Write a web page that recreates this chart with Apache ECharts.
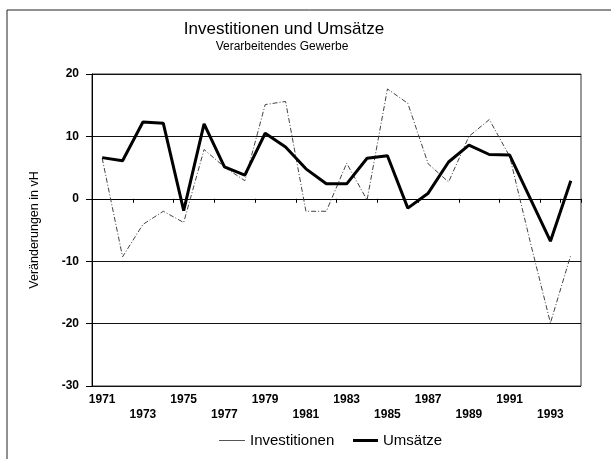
<!DOCTYPE html>
<html>
<head>
<meta charset="utf-8">
<script src="https://cdn.jsdelivr.net/npm/echarts@6/dist/echarts.min.js"></script>
<style>
  html, body { margin: 0; padding: 0; background: #fff; }
  #chart { width: 611px; height: 459px; }
</style>
</head>
<body>
<div id="chart"></div>
<script>
// Jahre 1971 - 1994
const years = ['1971', '1972', '1973', '1974', '1975', '1976', '1977', '1978', '1979', '1980', '1981', '1982',
  '1983', '1984', '1985', '1986', '1987', '1988', '1989', '1990', '1991', '1992', '1993', '1994']
const investitionen = [6.5, -9.3, -4.1, -2.0, -3.8, 7.9, 5.1, 2.9, 15.1, 15.6, -2.0, -2.0,
  5.7, -0.2, 17.6, 15.3, 5.6, 2.7, 10.0, 12.7, 6.8, -6.8, -19.9, -9.0]
const umsaetze = [6.6, 6.1, 12.3, 12.1, -1.9, 12.0, 5.1, 3.8, 10.5, 8.3, 4.8, 2.4,
  2.4, 6.5, 6.9, -1.5, 0.9, 5.9, 8.6, 7.1, 7.0, 0.1, -6.8, 2.9]
const yTicks = { min: -30, max: 20, interval: 10 }

const font = 'Liberation Sans, Arial, sans-serif'
const chart = echarts.init(document.getElementById('chart'))

const legendText = { fontFamily: font, fontSize: 15, color: '#000' }

chart.setOption({
  animation: false,
  backgroundColor: '#fff',
  title: [{
    text: 'Investitionen und Umsätze',
    left: 279,
    top: 16,
    textAlign: 'center',
    textStyle: { fontFamily: font, fontSize: 17, fontWeight: 'normal', color: '#000' }
  }, {
    text: 'Verarbeitendes Gewerbe',
    left: 277,
    top: 36,
    textAlign: 'center',
    textStyle: { fontFamily: font, fontSize: 12, fontWeight: 'normal', color: '#000' }
  }],
  graphic: [{
    type: 'rect',
    shape: { x: 7, y: 10, width: 640, height: 500 },
    style: { fill: 'none', stroke: '#222', lineWidth: 1 },
    silent: true
  }],
  legend: [{
    top: 428,
    left: 214,
    icon: 'rect',
    itemWidth: 26,
    itemHeight: 1,
    itemGap: 5,
    textStyle: legendText,
    data: ['Investitionen']
  }, {
    top: 428,
    left: 348,
    icon: 'rect',
    itemWidth: 25,
    itemHeight: 3,
    textStyle: legendText,
    data: ['Umsätze']
  }],
  grid: {
    left: 92,
    right: 30,
    top: 74,
    bottom: 73,
    show: true,
    borderColor: '#333',
    borderWidth: 1
  },
  xAxis: {
    type: 'category',
    data: years,
    boundaryGap: true,
    axisLine: { lineStyle: { color: '#000', width: 1 } },
    axisTick: { show: true, interval: 1, length: 4, lineStyle: { color: '#000' } },
    axisLabel: {
      interval: 0,
      margin: 6,
      fontFamily: font,
      fontSize: 12,
      fontWeight: 'bold',
      color: '#000',
      lineHeight: 15,
      formatter: function (v, i) {
        if (i % 2 === 1) return ''
        return (i / 2) % 2 === 0 ? v : '\n' + v
      }
    },
    splitLine: { show: false }
  },
  yAxis: {
    type: 'value',
    min: yTicks.min,
    max: yTicks.max,
    interval: yTicks.interval,
    name: 'Veränderungen in vH',
    nameLocation: 'middle',
    nameGap: 51,
    nameTextStyle: { fontFamily: font, fontSize: 12.5, color: '#000' },
    axisLine: { show: true, lineStyle: { color: '#000', width: 1 } },
    axisTick: { show: true, length: 6, lineStyle: { color: '#000' } },
    axisLabel: { margin: 13, fontFamily: font, fontSize: 12, fontWeight: 'bold', color: '#000' },
    splitLine: { show: true, lineStyle: { color: '#111', width: 1 } }
  },
  series: [{
    name: 'Investitionen',
    type: 'line',
    data: investitionen,
    symbol: 'none',
    lineStyle: { color: '#444', width: 1, type: [5, 2, 1, 2] },
    itemStyle: { color: '#555' }
  }, {
    name: 'Umsätze',
    type: 'line',
    data: umsaetze,
    symbol: 'none',
    lineStyle: { color: '#000', width: 3 },
    itemStyle: { color: '#000' }
  }]
})
</script>
</body>
</html>
